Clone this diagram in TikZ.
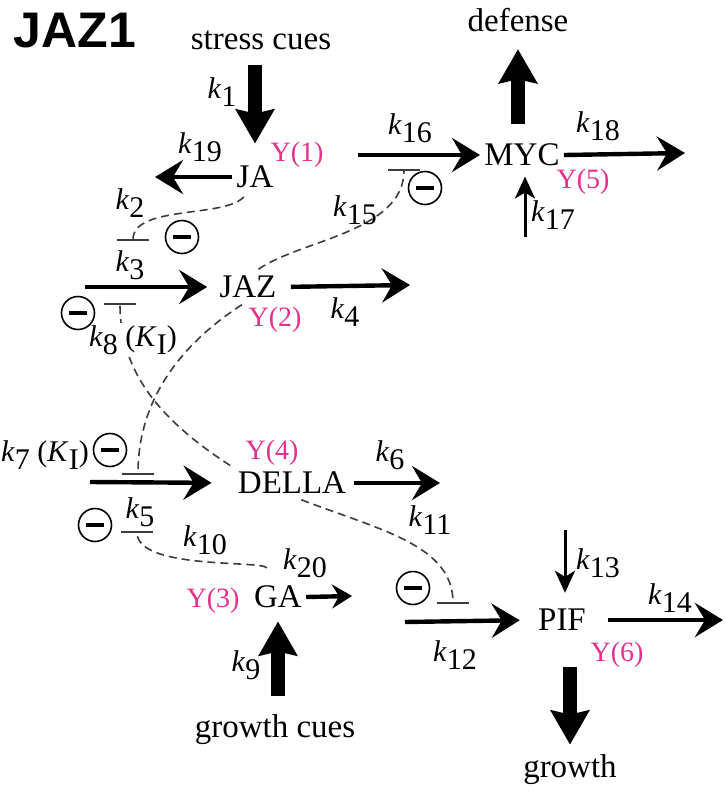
\documentclass[tikz,border=0pt]{standalone}
\usepackage{fontspec}
\setmainfont{Liberation Serif}
\newfontfamily\headfont{Liberation Sans}
\usetikzlibrary{arrows.meta,positioning}
\definecolor{ymag}{RGB}{231,47,141}
\definecolor{dashgray}{RGB}{60,60,60}
\newcommand{\kk}[1]{\textit{k}\raisebox{-0.6ex}{#1}}
\newcommand{\KI}{(\textit{K}\raisebox{-0.6ex}{I})}
\tikzset{
  spec/.style={font=\fontsize{16.5}{19}\selectfont,inner sep=2pt},
  rate/.style={font=\fontsize{15}{17}\selectfont,inner sep=1pt},
  ylab/.style={font=\fontsize{14}{16}\selectfont,text=ymag,inner sep=1pt},
  flux/.style={line width=2.2pt,-{Stealth[length=14pt,width=17pt,inset=5pt]}},
  fluxs/.style={line width=2.2pt,-{Stealth[length=10pt,width=12pt,inset=3.5pt]}},
  fluxt/.style={line width=1.5pt,-{Stealth[length=11pt,width=10pt,inset=3pt]}},
  cue/.style={line width=7pt,-{Stealth[length=17pt,width=19pt,inset=2pt]}},
  inhib/.style={dashgray,line width=0.8pt,dash pattern=on 4pt off 2.5pt,-{Bar[width=16pt,line width=1pt]}},
  neg/.style={circle,draw,line width=0.8pt,minimum size=16.5pt,inner sep=0pt,
    path picture={\draw[line width=1.9pt] (path picture bounding box.center) +(-4.5pt,0) -- +(4.5pt,0);}}
}

\begin{document}
\begin{tikzpicture}[x=0.5pt,y=-0.5pt]
  \useasboundingbox (0,0) rectangle (725,794);
  \node[font=\headfont\bfseries\fontsize{25}{28}\selectfont] (title) at (75,31) {JAZ1};
  % species
  \node[spec] (ja) at (255,177) {JA};
  \node[spec] (jaz) at (248,287) {JAZ};
  \node[spec] (della) at (292,483) {DELLA};
  \node[spec] (ga) at (278,597) {GA};
  \node[spec] (myc) at (522,155) {MYC};
  \node[spec] (pif) at (562,620) {PIF};
  % cues and outputs
  \node[spec] (stress) at (261,40) {stress cues};
  \node[spec] (growthcue) at (275,730) {growth cues};
  \node[spec] (defense) at (518,20) {defense};
  \node[spec] (growth) at (570,770) {growth};
  % state variables
  \node[ylab] (y1) at (297,155) {Y(1)};
  \node[ylab] (y2) at (275,320) {Y(2)};
  \node[ylab] (y3) at (213,601) {Y(3)};
  \node[ylab] (y4) at (272,453) {Y(4)};
  \node[ylab] (y5) at (583,182) {Y(5)};
  \node[ylab] (y6) at (617,655) {Y(6)};
  % free ends of the fluxes
  \coordinate (e19) at (155,177);
  \coordinate (s3) at (85,287);
  \coordinate (e4) at (410,285);
  \coordinate (s5) at (90,482);
  \coordinate (e6) at (440,483);
  \coordinate (s12) at (405,622);
  \coordinate (e14) at (723,620);
  \coordinate (s16) at (358,155);
  \coordinate (e18) at (685,153);
  \coordinate (s13) at (565,530);
  \coordinate (s17) at (525,237);
  \coordinate (e20) at (352,596);
  % cue arrows
  \draw[cue,shorten <=5.5pt,shorten >=9pt] (stress.south -| ja) -- (ja.north);
  \draw[cue,shorten <=8pt,shorten >=6.5pt] (defense |- myc.north) -- (defense.south);
  \draw[cue,shorten <=7.5pt,shorten >=4.5pt] (ga |- growthcue.north) -- (ga.south);
  \draw[cue,shorten <=16pt,shorten >=3pt] (growth |- pif.south) -- (growth.north);
  % fluxes
  \draw[flux] (ja.west) -- (e19);
  \draw[flux,shorten >=4pt] (s3) -- (jaz.west);
  \draw[flux,shorten <=5pt] (jaz.east) -- (e4);
  \draw[flux,shorten >=11pt] (s5) -- (della.west);
  \draw[flux,shorten <=2pt] (della.east) -- (e6);
  \draw[flux,shorten >=7pt] (s12) -- (pif.west);
  \draw[flux,shorten <=9pt] (pif.east) -- (e14);
  \draw[flux] (s16) -- (myc.west);
  \draw[flux] (myc.east) -- (e18);
  \draw[fluxt,shorten >=6pt] (s13) -- (s13 |- pif.north);
  \draw[fluxt,shorten >=3pt] (s17) -- (s17 |- myc.south);
  \draw[fluxs] (ga.east) -- (e20);
  % inhibition ends
  \coordinate (b2) at (133,241);
  \coordinate (b15) at (404,169);
  \coordinate (b8) at (120,303);
  \coordinate (b7) at (138,475);
  \coordinate (b10) at (137,531);
  \coordinate (b11) at (453,604);
  % inhibitions
  \draw[inhib,shorten <=3pt] (ja.-115) .. controls (225,218) and (133,205) .. (b2);
  \draw[inhib,shorten <=2pt] (jaz.65) .. controls (300,240) and (404,232) .. (b15);
  \draw[inhib,shorten <=2pt] (della.north west) .. controls (160,420) and (120,372) .. (b8);
  \draw[inhib,shorten <=2pt] (jaz.-100) .. controls (180,345) and (138,400) .. (b7);
  \draw[inhib,shorten <=8pt] (ga.100) .. controls (262,560) and (137,570) .. (b10);
  \draw[inhib,shorten <=2pt] (della.-70) .. controls (380,530) and (453,545) .. (b11);
  % rate constants
  \node[rate] (k1) at (222,92) {\kk{1}};
  \node[rate] (k19) at (200,147) {\kk{19}};
  \node[rate] (k2) at (130,203) {\kk{2}};
  \node[rate] (k16) at (410,128) {\kk{16}};
  \node[rate] (k18) at (598,126) {\kk{18}};
  \node[rate] (k15) at (355,210) {\kk{15}};
  \node[rate] (k17) at (553,215) {\kk{17}};
  \node[rate] (k3) at (130,265) {\kk{3}};
  \node[rate] (k4) at (345,312) {\kk{4}};
  \node[rate,fill=white] (k8) at (133,340) {\kk{8} \KI};
  \node[rate] (k7) at (45,455) {\kk{7} \KI};
  \node[rate] (k6) at (390,455) {\kk{6}};
  \node[rate] (k5) at (140,512) {\kk{5}};
  \node[rate] (k10) at (205,540) {\kk{10}};
  \node[rate] (k20) at (305,563) {\kk{20}};
  \node[rate] (k9) at (246,665) {\kk{9}};
  \node[rate] (k11) at (430,520) {\kk{11}};
  \node[rate] (k13) at (598,563) {\kk{13}};
  \node[rate] (k12) at (455,655) {\kk{12}};
  \node[rate] (k14) at (670,598) {\kk{14}};
  % negative signs
  \node[neg] (m2) at (182,237) {};
  \node[neg] (m15) at (425,188) {};
  \node[neg] (m8) at (78,313) {};
  \node[neg] (m7) at (110,450) {};
  \node[neg] (m10) at (95,525) {};
  \node[neg] (m11) at (413,588) {};
\end{tikzpicture}
\end{document}
